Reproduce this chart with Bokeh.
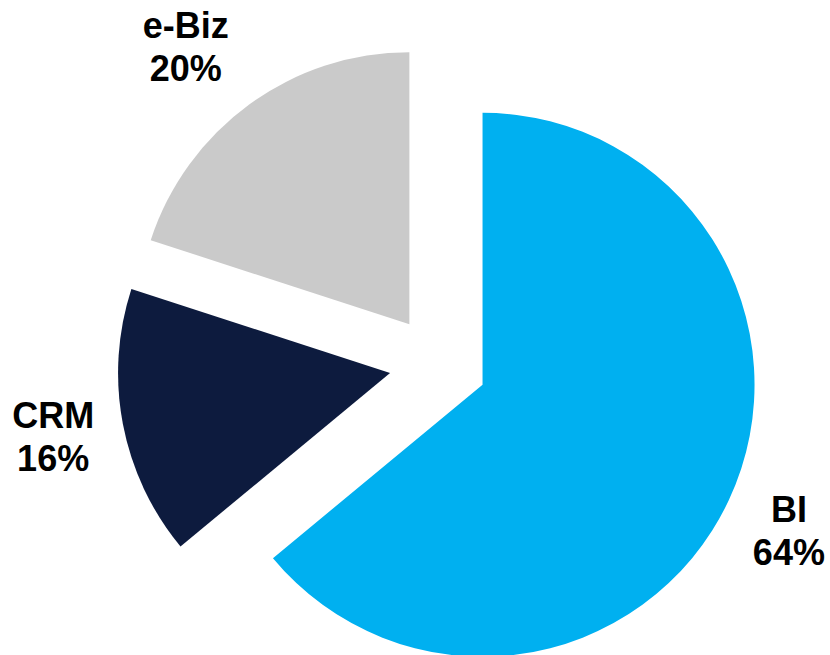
import math
from bokeh.plotting import figure
from bokeh.models import Range1d, ColumnDataSource
from bokeh.core.properties import value
from bokeh.embed import file_html
from bokeh.resources import INLINE

# ---- data ----
categories = ["BI", "CRM", "e-Biz"]
shares = [64, 16, 20]
pct_labels = ["64%", "16%", "20%"]

# ---- style ----
colors = ["#00B0F0", "#0D1B3E", "#CACACA"]
W, H = 830, 655
center_x, center_y_screen = 437.7, 363.4
radius = 272
explode = 49
label_dist = 392
label_nudge = [(-4, -13), (0, -13), (-22, -13)]  # px tweaks (screen)
font = "Liberation Sans"
fsize = 36

def to_data_y(sy):
    return H - sy

cx, cy = center_x, to_data_y(center_y_screen)

xs, ys, starts, ends = [], [], [], []
lab_x, lab_y1, lab_y2 = [], [], []
total = sum(shares)
cum = 0
for i, v in enumerate(shares):
    a0 = 90 - cum / total * 360
    cum += v
    a1 = 90 - cum / total * 360
    mid = math.radians((a0 + a1) / 2)
    xs.append(cx + explode * math.cos(mid))
    ys.append(cy + explode * math.sin(mid))
    starts.append(math.radians(a1))
    ends.append(math.radians(a0))
    lx = cx + label_dist * math.cos(mid) + label_nudge[i][0]
    ly_screen = H - (cy + label_dist * math.sin(mid)) + label_nudge[i][1]
    lab_x.append(lx)
    lab_y1.append(to_data_y(ly_screen - 8.5))
    lab_y2.append(to_data_y(ly_screen + 34.5))

src = ColumnDataSource(dict(x=xs, y=ys, s=starts, e=ends, c=colors,
                            lx=lab_x, ly1=lab_y1, ly2=lab_y2,
                            name=categories, pct=pct_labels))

p = figure(width=W, height=H, output_backend="svg", toolbar_location=None,
           x_range=Range1d(0, W), y_range=Range1d(0, H),
           min_border=0)
p.axis.visible = False
p.grid.visible = False
p.outline_line_color = None
p.background_fill_color = "white"

p.wedge(x="x", y="y", radius=radius, start_angle="s", end_angle="e",
        direction="anticlock", fill_color="c", line_color=None, source=src)

p.text(x="lx", y="ly1", text="name", source=src, text_align="center",
       text_baseline="alphabetic", text_font=value(font),
       text_font_style="bold", text_font_size=f"{fsize}px", text_color="black")
p.text(x="lx", y="ly2", text="pct", source=src, text_align="center",
       text_baseline="alphabetic", text_font=value(font),
       text_font_style="bold", text_font_size=f"{fsize}px", text_color="black")

open("out.html", "w").write(file_html(p, INLINE))
